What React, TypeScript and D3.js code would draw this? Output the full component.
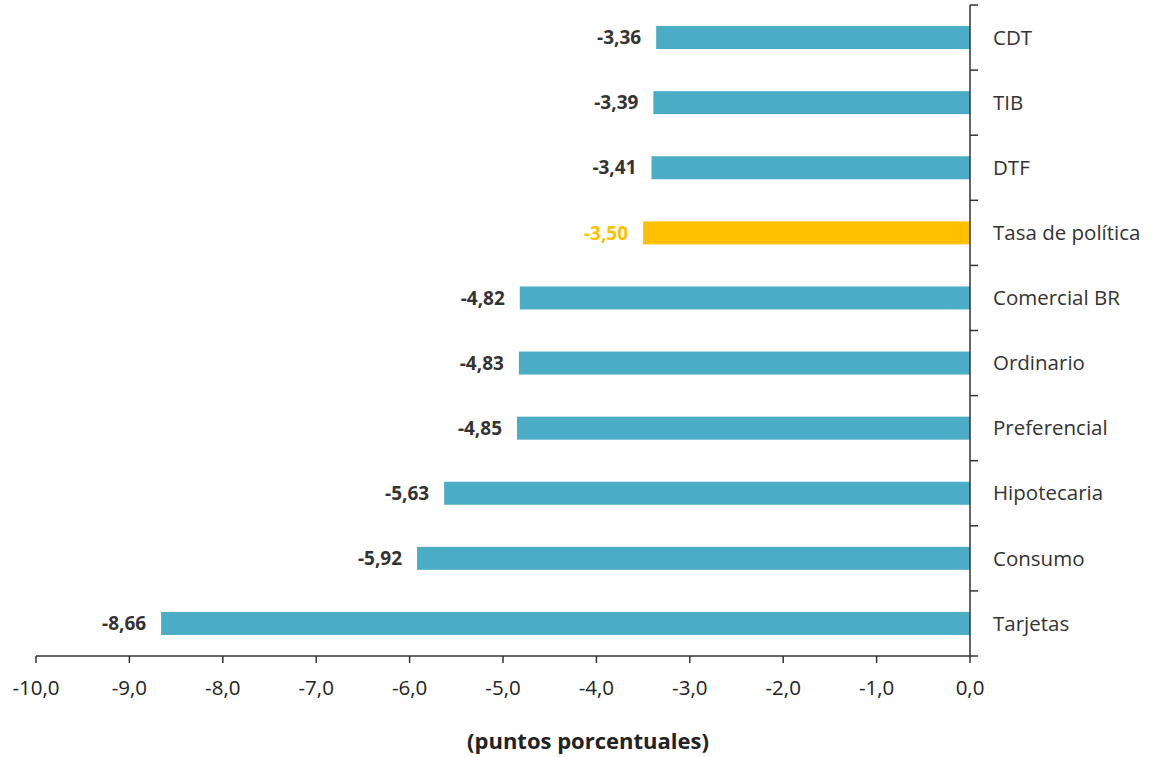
import React from "react";
import * as d3 from "d3";

const categories = ["CDT", "TIB", "DTF", "Tasa de política", "Comercial BR", "Ordinario", "Preferencial", "Hipotecaria", "Consumo", "Tarjetas"];
const values = [-3.36, -3.39, -3.41, -3.5, -4.82, -4.83, -4.85, -5.63, -5.92, -8.66];
const highlight = "Tasa de política";
const xTicks = [-10, -9, -8, -7, -6, -5, -4, -3, -2, -1, 0];
const axisTitle = "(puntos porcentuales)";

const W = 1153;
const H = 757;
const FONT = "'Open Sans', Lato, sans-serif";

export default function App() {
  const x = d3.scaleLinear().domain([-10, 0]).range([36, 970]);
  const y = d3.scaleBand<string>().domain(categories).range([5, 656]).paddingInner(0).paddingOuter(0);
  const barH = 23;
  const fmt = (v: number, d: number) => v.toFixed(d).replace(".", ",");
  const axisColor = "#333";
  const boundaries = d3.range(categories.length + 1).map((i) => 5 + i * y.bandwidth());

  return (
    <svg width={W} height={H} style={{ position: "absolute", left: 0, top: 0 }} fontFamily={FONT}>
      {categories.map((c, i) => {
        const v = values[i];
        const isH = c === highlight;
        const cy = (y(c) as number) + y.bandwidth() / 2;
        return (
          <g key={c}>
            <rect x={x(v)} y={cy - barH / 2} width={x(0) - x(v)} height={barH} fill={isH ? "#FFC000" : "#4BACC6"} />
            <text x={x(v) - 15} y={cy} dy="0.35em" textAnchor="end" fontSize={19} fontWeight="bold" fill={isH ? "#FFC000" : "#333"}>
              {fmt(v, 2)}
            </text>
            <text x={993} y={cy} dy="0.35em" fontSize={20.5} fill="#333">
              {c}
            </text>
          </g>
        );
      })}
      {/* y axis */}
      <line x1={x(0)} x2={x(0)} y1={5} y2={656} stroke={axisColor} strokeWidth={1.5} />
      {boundaries.map((b, i) => (
        <line key={i} x1={x(0)} x2={x(0) + 8} y1={b} y2={b} stroke={axisColor} strokeWidth={1.5} />
      ))}
      {/* x axis */}
      <line x1={x(-10)} x2={x(0)} y1={656} y2={656} stroke={axisColor} strokeWidth={1.5} />
      {xTicks.map((t) => (
        <g key={t}>
          <line x1={x(t)} x2={x(t)} y1={656} y2={663} stroke={axisColor} strokeWidth={1.5} />
          <text x={x(t)} y={688} dy="0.35em" textAnchor="middle" fontSize={20.5} fill="#222">
            {fmt(t, 1)}
          </text>
        </g>
      ))}
      <text x={588} y={741} dy="0.35em" textAnchor="middle" fontSize={22} fontWeight="bold" fill="#222">
        {axisTitle}
      </text>
    </svg>
  );
}
